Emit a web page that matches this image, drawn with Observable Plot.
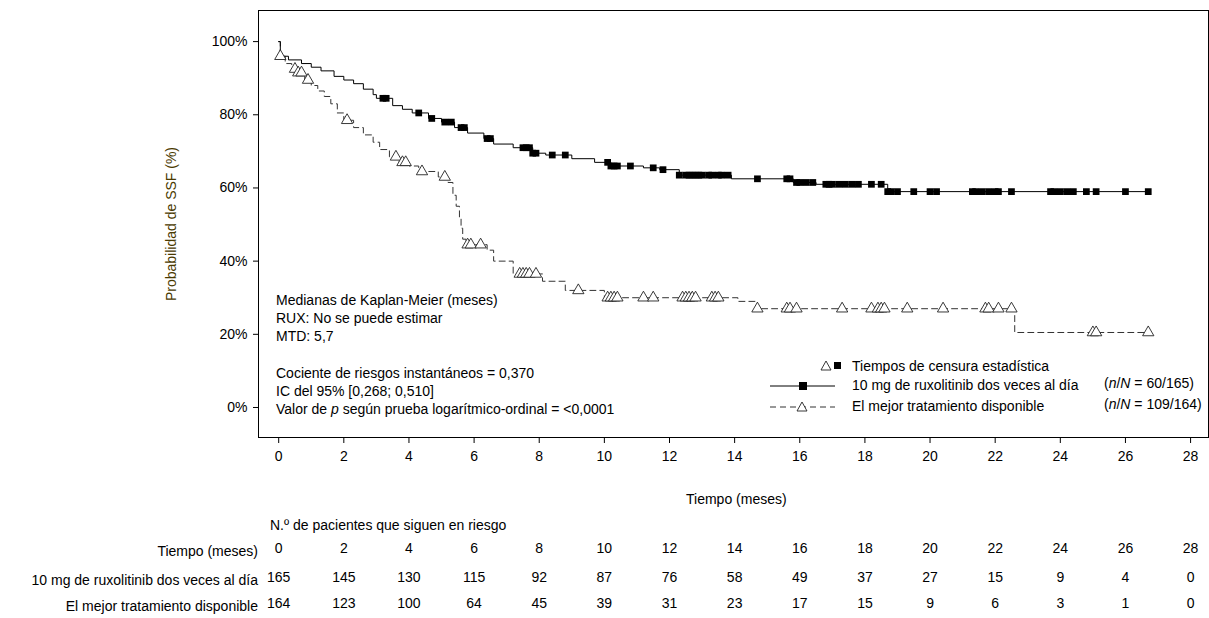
<!DOCTYPE html>
<html lang="es">
<head>
<meta charset="UTF-8">
<script src="https://cdn.jsdelivr.net/npm/d3@7"></script>
<script src="https://cdn.jsdelivr.net/npm/@observablehq/plot@0.6"></script>
<style>
  body { margin: 0; background: #fff; font-family: Arial, "Liberation Sans", sans-serif; }
  #wrap { position: relative; width: 1209px; height: 618px; }
  .t { position: absolute; font-size: 14px; color: #000; white-space: nowrap; line-height: 18px; }
</style>
</head>
<body>
<div id="wrap"><div id="plot"></div></div>
<script>
// curva de Kaplan-Meier: RUX
const ruxTime = [0, 0.05, 0.3, 0.7, 1.0, 1.3, 1.7, 2.0, 2.3, 2.6, 2.9, 3.0, 3.5, 3.8, 4.1, 4.6, 5.0, 5.4, 5.8, 6.3, 6.6, 7.2, 7.8, 8.2, 9.0, 9.7, 10.2, 11.2, 11.7, 12.3, 13.9, 15.8, 16.5, 18.7, 26.7];
const ruxSurv = [100, 96, 95, 94, 93, 92, 90.5, 89.5, 88.5, 87, 85.5, 84.5, 82.5, 81.5, 80.5, 79, 78, 76.5, 75, 73.5, 72, 71, 69.5, 69, 68, 67, 66, 65.5, 65, 63.5, 62.5, 61.5, 61, 59, 59];
const ruxCens = [3.2, 3.3, 4.3, 4.7, 5.1, 5.3, 5.6, 5.7, 6.4, 6.5, 7.5, 7.6, 7.7, 7.8, 7.9, 8.4, 8.8, 10.1, 10.2, 10.3, 10.4, 10.8, 11.5, 11.8,
  12.3, 12.5, 12.6, 12.7, 12.8, 12.9, 13.0, 13.2, 13.3, 13.5, 13.6, 13.8, 14.7, 15.6, 15.7, 15.9, 16.0, 16.2, 16.4, 16.8, 16.9, 17.0, 17.2, 17.4, 17.6, 17.8,
  18.2, 18.5, 18.7, 18.8, 19.0, 19.5, 20.0, 20.2, 21.3, 21.4, 21.6, 21.8, 22.0, 22.1, 22.5, 23.7, 23.8, 24.0, 24.2, 24.4, 24.8, 25.1, 26.0, 26.7];
// curva BAT
const batTime = [0, 0.05, 0.2, 0.4, 0.6, 0.8, 1.0, 1.2, 1.4, 1.6, 1.8, 2.0, 2.3, 2.6, 2.9, 3.1, 3.4, 3.7, 4.0, 4.3, 4.9, 5.2, 5.35, 5.45, 5.55, 5.6, 5.65, 5.75, 6.4, 6.6, 7.2, 8.1, 8.8, 10.0, 14.1, 14.7, 22.6, 26.7];
const batSurv = [100, 96, 94, 92.5, 91.5, 89.5, 88, 86.5, 85, 83, 80.5, 78.5, 76.5, 74.5, 72.5, 70.5, 68.5, 67, 66, 64.5, 63, 61.5, 58, 55, 52, 49, 46, 44.5, 43, 40, 36.5, 34.5, 32, 30, 29, 27, 20.5, 20.5];
const batCens = [0.05, 0.5, 0.6, 0.7, 0.9, 2.1, 3.6, 3.8, 3.9, 4.4, 5.1, 5.8, 5.9, 6.2, 7.4, 7.5, 7.6, 7.7, 7.9, 9.2, 10.1, 10.2, 10.3, 10.4, 11.2, 11.5,
  12.4, 12.5, 12.6, 12.7, 12.8, 13.3, 13.4, 13.5, 14.7, 15.6, 15.7, 15.9, 17.3, 18.2, 18.4, 18.5, 18.6, 19.3, 20.4, 21.7, 21.8, 22.1, 22.5, 25.0, 25.1, 26.7];

// tabla de pacientes en riesgo
const riskTimes = [0, 2, 4, 6, 8, 10, 12, 14, 16, 18, 20, 22, 24, 26, 28];
const riskRux = [165, 145, 130, 115, 92, 87, 76, 58, 49, 37, 27, 15, 9, 4, 0];
const riskBat = [164, 123, 100, 64, 45, 39, 31, 23, 17, 15, 9, 6, 3, 1, 0];
const yTicks = [0, 20, 40, 60, 80, 100];

const stepAt = (times, surv) => t => {
  let v = surv[0];
  for (let i = 0; i < times.length; i++) if (times[i] <= t) v = surv[i];
  return v;
};
const rux = ruxTime.map((t, i) => ({t, s: ruxSurv[i]}));
const bat = batTime.map((t, i) => ({t, s: batSurv[i]}));
const ruxC = ruxCens.map(t => ({t, s: stepAt(ruxTime, ruxSurv)(t)}));
const batC = batCens.map(t => ({t, s: stepAt(batTime, batSurv)(t)}));
const riskRows = riskTimes.flatMap((t, i) => [
  {t, y: -38.5, v: String(t)},
  {t, y: -46.4, v: String(riskRux[i])},
  {t, y: -53.5, v: String(riskBat[i])}
]);

const plot = Plot.plot({
  width: 1209, height: 618,
  marginTop: 10, marginBottom: 181, marginLeft: 258, marginRight: 1,
  style: {fontFamily: "Arial, 'Liberation Sans', sans-serif", fontSize: "14px", color: "#000", overflow: "visible"},
  x: {domain: [-0.62, 28.55], ticks: riskTimes, tickSize: 6, tickPadding: 8, label: null},
  y: {domain: [-8.2, 108.5], ticks: yTicks, tickFormat: d => d + "%", tickSize: 5, tickPadding: 6, label: null},
  marks: [
    Plot.frame({stroke: "#000"}),
    Plot.line(bat, {x: "t", y: "s", curve: "step-after", stroke: "#333", strokeWidth: 1, strokeDasharray: "6,4"}),
    Plot.line(rux, {x: "t", y: "s", curve: "step-after", stroke: "#000", strokeWidth: 1}),
    Plot.dot(batC, {x: "t", y: "s", symbol: "triangle", r: 4.2, stroke: "#222", fill: "white", strokeWidth: 0.9}),
    Plot.dot(ruxC, {x: "t", y: "s", symbol: "square", r: 3.8, fill: "#000", stroke: "none"}),
    Plot.text(riskRows, {x: "t", y: "y", text: "v", fontSize: 14, fill: "#000"})
  ]
});
document.getElementById("plot").append(plot);

const wrap = document.getElementById("wrap");
function label(html, left, top, extra) {
  const d = document.createElement("div");
  d.className = "t"; d.innerHTML = html;
  d.style.left = left + "px"; d.style.top = top + "px";
  if (extra) Object.assign(d.style, extra);
  wrap.append(d);
  return d;
}
label("Probabilidad de SSF (%)", 86, 215, {transform: "rotate(-90deg)", transformOrigin: "center", color: "#4a3a00", width: "170px", textAlign: "center"});
label("Tiempo (meses)", 686, 490);
label("N.º de pacientes que siguen en riesgo", 270, 516);
label("Tiempo (meses)", 0, 542, {width: "258px", textAlign: "right"});
label("10 mg de ruxolitinib dos veces al día", 0, 571, {width: "258px", textAlign: "right"});
label("El mejor tratamiento disponible", 0, 597, {width: "258px", textAlign: "right"});
label("Medianas de Kaplan-Meier (meses)<br>RUX: No se puede estimar<br>MTD: 5,7", 276, 291);
label("Cociente de riesgos instantáneos = 0,370<br>IC del 95% [0,268; 0,510]<br>Valor de <i>p</i> según prueba logarítmico-ordinal = &lt;0,0001", 276, 364);
label("Tiempos de censura estadística", 852, 357);
label("10 mg de ruxolitinib dos veces al día", 852, 376);
label("El mejor tratamiento disponible", 852, 397);
label("(<i>n</i>/<i>N</i> = 60/165)", 1104, 374);
label("(<i>n</i>/<i>N</i> = 109/164)", 1104, 395, {overflow: "hidden", width: "104px"});

// símbolos de la leyenda
const ns = "http://www.w3.org/2000/svg";
const svg = plot.tagName === "svg" ? plot : plot.querySelector("svg");
const g = document.createElementNS(ns, "g");
g.innerHTML = `
  <path d="M826,361 L831,370 L821,370 Z" fill="white" stroke="#222" stroke-width="0.9"/>
  <rect x="834" y="362" width="7" height="7" fill="#000"/>
  <line x1="770" x2="835" y1="386" y2="386" stroke="#000"/>
  <rect x="799" y="382" width="8" height="8" fill="#000"/>
  <line x1="770" x2="835" y1="407" y2="407" stroke="#333" stroke-dasharray="6,4"/>
  <path d="M802,402 L807,411 L797,411 Z" fill="white" stroke="#222" stroke-width="0.9"/>`;
svg.append(g);
</script>
</body>
</html>
